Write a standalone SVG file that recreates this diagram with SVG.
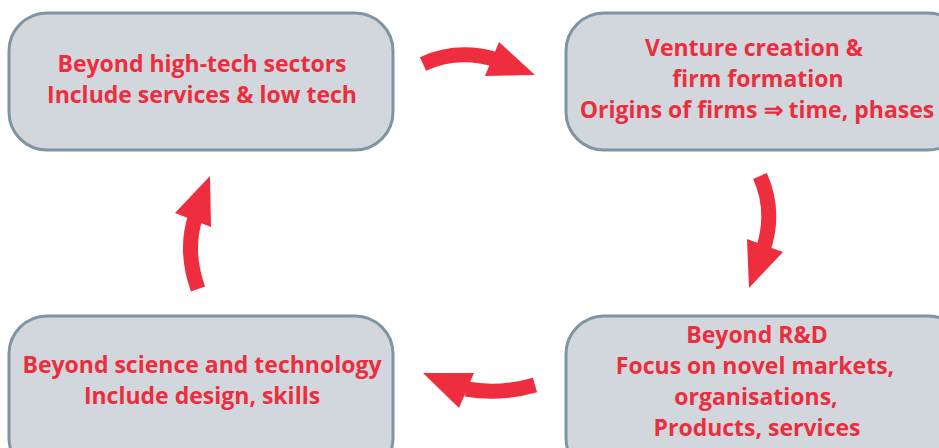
<svg xmlns="http://www.w3.org/2000/svg" width="939" height="448" viewBox="0 0 939 448">
<style>
.box{fill:#d1d7dc;stroke:#7f95a3;stroke-width:3}
.t{font-family:"Open Sans","Liberation Sans",sans-serif;font-weight:bold;font-size:23px;fill:#ec2d3d;text-anchor:middle}
.body{fill:none;stroke:#ee2e3e;stroke-width:15}
.head{fill:#ee2e3e}
</style>
<rect width="939" height="448" fill="#ffffff"/>
<g id="node-hightech">
<rect class="box" x="9" y="13" width="384" height="137" rx="38"/>
<text class="t" x="202" y="72">Beyond high-tech sectors</text>
<text class="t" x="202" y="103">Include services &amp; low tech</text>
</g>
<g id="node-venture">
<rect class="box" x="566" y="13" width="400" height="137" rx="38"/>
<text class="t" x="754" y="56">Venture creation &amp;</text>
<text class="t" x="758" y="87">firm formation</text>
<text class="t" x="757" y="118">Origins of firms ⇒ time, phases</text>
</g>
<g id="node-rd">
<rect class="box" x="566" y="316" width="400" height="160" rx="38"/>
<text class="t" x="757" y="343">Beyond R&amp;D</text>
<text class="t" x="755" y="374">Focus on novel markets,</text>
<text class="t" x="756" y="405">organisations,</text>
<text class="t" x="757" y="436">Products, services</text>
</g>
<g id="node-science">
<rect class="box" x="9" y="316" width="384" height="160" rx="38"/>
<text class="t" x="202" y="373">Beyond science and technology</text>
<text class="t" x="202" y="404">Include design, skills</text>
</g>
<g id="connectors">
<path class="body" d="M423,64 Q458,48 497,60"/>
<polygon class="head" points="499,42 535,75 485,76"/>
<path class="body" d="M760,176 Q776,212 763,250"/>
<polygon class="head" points="747,239 783,252 749,288"/>
<path class="body" d="M535,385 Q500,395 466,389"/>
<polygon class="head" points="474,373 423,373 459,408"/>
<path class="body" d="M198,289 Q184,250 196,215"/>
<polygon class="head" points="175,213 210,176 211,227"/>
</g>
</svg>
